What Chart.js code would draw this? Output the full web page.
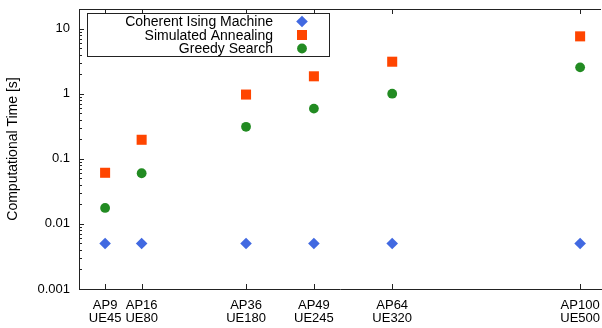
<!DOCTYPE html>
<html>
<head>
<meta charset="utf-8">
<script src="https://cdn.jsdelivr.net/npm/chart.js@4/dist/chart.umd.min.js"></script>
<style>
  body { margin: 0; background: #fff; }
  canvas { display: block; }
</style>
</head>
<body>
<canvas id="chart" width="602" height="328"></canvas>
<script>
// Problem sizes (x position = number of APs)
var apValues = [9, 16, 36, 49, 64, 100];
var apLabels = ['AP9', 'AP16', 'AP36', 'AP49', 'AP64', 'AP100'];
var ueLabels = ['UE45', 'UE80', 'UE180', 'UE245', 'UE320', 'UE500'];

// Computational time [s]
var cimTimes = [0.005, 0.005, 0.005, 0.005, 0.005, 0.005];
var saTimes = [0.061, 0.196, 0.97, 1.85, 3.1, 7.6];
var gsTimes = [0.0176, 0.06, 0.31, 0.59, 1.0, 2.54];

// Y axis labels
var yMajorTicks = [0.001, 0.01, 0.1, 1, 10];
var yTickLabels = ['0.001', '0.01', '0.1', '1', '10'];

var fontFamily = '"Liberation Sans", Arial, Helvetica, sans-serif';
var axisColor = '#222';

function toPoints(values) {
  return apValues.map(function (x, i) { return { x: x, y: values[i] }; });
}

// minor ticks for the log axis
var yAllTicks = [];
yMajorTicks.forEach(function (d) {
  for (var k = 1; k <= 9; k++) {
    var v = +(d * k).toPrecision(3);
    if (v <= 20) yAllTicks.push(v);
  }
});

var datasets = [
  {
    label: 'Coherent Ising Machine',
    data: toPoints(cimTimes),
    pointStyle: 'rectRot',
    pointRadius: 5.8,
    backgroundColor: '#4169e1',
    borderWidth: 0
  },
  {
    label: 'Simulated Annealing',
    data: toPoints(saTimes),
    pointStyle: 'rect',
    pointRadius: 7.1,
    backgroundColor: '#ff4500',
    borderWidth: 0
  },
  {
    label: 'Greedy Search',
    data: toPoints(gsTimes),
    pointStyle: 'circle',
    pointRadius: 4.9,
    backgroundColor: '#228b22',
    borderWidth: 0
  }
];

// top border, inward ticks and the boxed key
var framePlugin = {
  id: 'frame',
  afterDraw: function (chart) {
    var ctx = chart.ctx;
    var area = chart.chartArea;
    var xs = chart.scales.x;
    var ys = chart.scales.y;
    ctx.save();
    ctx.strokeStyle = axisColor;
    ctx.lineWidth = 1;
    ctx.beginPath();
    ctx.moveTo(area.left, area.top + 0.5);
    ctx.lineTo(area.right, area.top + 0.5);
    apValues.forEach(function (v) {
      var px = Math.round(xs.getPixelForValue(v)) + 0.5;
      ctx.moveTo(px, area.bottom);
      ctx.lineTo(px, area.bottom - 5);
      ctx.moveTo(px, area.top);
      ctx.lineTo(px, area.top + 5);
    });
    yAllTicks.forEach(function (v) {
      var py = Math.round(ys.getPixelForValue(v)) + 0.5;
      var len = yMajorTicks.indexOf(v) >= 0 ? 5 : 3;
      ctx.moveTo(area.left, py);
      ctx.lineTo(area.left + len, py);
    });
    ctx.stroke();

    // key
    var bx = 87, by = 13, bw = 242, bh = 43;
    ctx.fillStyle = '#fff';
    ctx.fillRect(bx, by, bw, bh);
    ctx.strokeRect(bx + 0.5, by + 0.5, bw, bh);
    ctx.font = '14px ' + fontFamily;
    ctx.textAlign = 'right';
    ctx.textBaseline = 'middle';
    var rowY = [21.5, 35, 48.5];
    chart.data.datasets.forEach(function (ds, i) {
      ctx.fillStyle = '#000';
      ctx.fillText(ds.label, 273, rowY[i] + 1);
      ctx.fillStyle = ds.backgroundColor;
      Chart.helpers.drawPoint(ctx, {
        pointStyle: ds.pointStyle,
        radius: ds.pointRadius,
        rotation: 0,
        borderWidth: 0
      }, 302, rowY[i]);
    });
    ctx.restore();
  }
};

var config = {
  type: 'scatter',
  data: { datasets: datasets },
  options: {
    responsive: false,
    animation: false,
    devicePixelRatio: 1,
    layout: { autoPadding: false, padding: { top: 9, right: 1, left: 0, bottom: 0 } },
    plugins: {
      legend: { display: false },
      tooltip: { enabled: false }
    },
    scales: {
      x: {
        type: 'linear',
        min: 4,
        max: 104,
        afterBuildTicks: function (scale) {
          scale.ticks = apValues.map(function (v) { return { value: v }; });
        },
        afterFit: function (scale) {
          scale.height = 39;
          scale.paddingLeft = 0;
          scale.paddingRight = 0;
        },
        ticks: {
          autoSkip: false,
          maxRotation: 0,
          padding: 10,
          color: '#000',
          font: { family: fontFamily, size: 13, lineHeight: 1.0 },
          callback: function (value) {
            var i = apValues.indexOf(value);
            return i >= 0 ? [apLabels[i], ueLabels[i]] : '';
          }
        },
        grid: { drawOnChartArea: false, drawTicks: false },
        border: { color: axisColor, width: 1 }
      },
      y: {
        type: 'logarithmic',
        min: 0.001,
        max: 20,
        afterBuildTicks: function (scale) {
          scale.ticks = yAllTicks.map(function (v) { return { value: v }; });
        },
        afterFit: function (scale) {
          scale.width = 79;
          scale.paddingTop = 0;
          scale.paddingBottom = 0;
        },
        ticks: {
          autoSkip: false,
          padding: 9,
          color: '#000',
          font: { family: fontFamily, size: 13 },
          callback: function (value) {
            var i = yMajorTicks.indexOf(+(+value).toPrecision(3));
            return i >= 0 ? yTickLabels[i] : '';
          }
        },
        title: {
          display: true,
          text: 'Computational Time [s]',
          color: '#000',
          font: { family: fontFamily, size: 14 },
          padding: { top: 5, bottom: 0 }
        },
        grid: { drawOnChartArea: false, drawTicks: false },
        border: { color: axisColor, width: 1 }
      }
    }
  },
  plugins: [framePlugin]
};

var myChart = new Chart(document.getElementById('chart'), config);
</script>
</body>
</html>
